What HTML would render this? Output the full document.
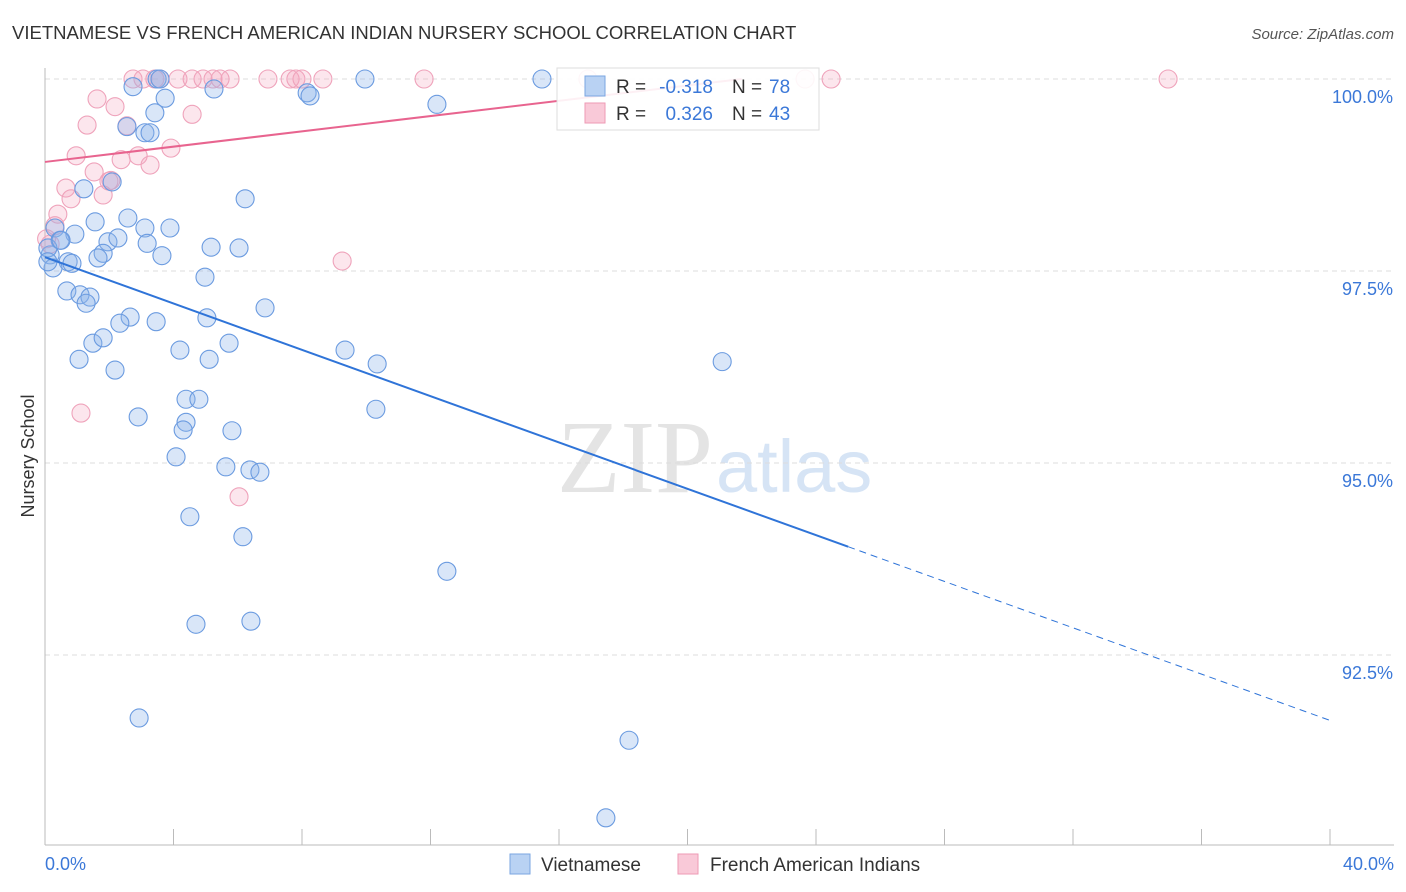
<!DOCTYPE html>
<html><head><meta charset="utf-8"><style>
body{margin:0;background:#fff;font-family:"Liberation Sans",sans-serif}
svg{display:block}
</style></head><body>
<svg id="chart" width="1406" height="892">
<text x="12" y="39" font-size="18.5" fill="#333">VIETNAMESE VS FRENCH AMERICAN INDIAN NURSERY SCHOOL CORRELATION CHART</text>
<text x="1394" y="39" font-size="15" fill="#555" font-style="italic" text-anchor="end">Source: ZipAtlas.com</text>
<text x="713" y="492" font-size="104" fill="#e4e4e4" text-anchor="end" font-family="Liberation Serif">ZIP</text>
<text x="716" y="492" font-size="74" fill="#d6e4f5">atlas</text>
<text x="34" y="456" font-size="18" fill="#333" transform="rotate(-90 34 456)" text-anchor="middle">Nursery School</text>
<g id="grid"></g><g id="pts"></g><g id="lines"></g>
<g>
<rect x="557" y="68" width="262" height="62" fill="#fff" fill-opacity="0.9" stroke="#ddd"/>
<rect x="585" y="76" width="20" height="20" fill="#b9d2f3" stroke="#7aa6e2"/>
<rect x="585" y="103" width="20" height="20" fill="#f9c9d8" stroke="#ee9ab5"/>
<text x="616" y="93" font-size="19" fill="#333">R =</text>
<text x="713" y="93" font-size="19" fill="#3b78d8" text-anchor="end">-0.318</text>
<text x="732" y="93" font-size="19" fill="#333">N =</text>
<text x="769" y="93" font-size="19" fill="#3b78d8">78</text>
<text x="616" y="120" font-size="19" fill="#333">R =</text>
<text x="713" y="120" font-size="19" fill="#3b78d8" text-anchor="end">0.326</text>
<text x="732" y="120" font-size="19" fill="#333">N =</text>
<text x="769" y="120" font-size="19" fill="#3b78d8">43</text>
</g>
<g>
<rect x="510" y="854" width="20" height="20" fill="#b9d2f3" stroke="#7aa6e2"/>
<text x="541" y="871" font-size="19" fill="#333">Vietnamese</text>
<rect x="678" y="854" width="20" height="20" fill="#f9c9d8" stroke="#ee9ab5"/>
<text x="710" y="871" font-size="19" fill="#333">French American Indians</text>
</g>
</svg>
<script>
const yTicks=[100,97.5,95,92.5];
const yTickLabels=["100.0%","97.5%","95.0%","92.5%"];
const xTickLabels=["0.0%","40.0%"];
const blueX=[2.74,3.49,3.58,3.74,3.42,3.11,3.27,2.55,5.26,8.16,8.25,9.96,15.47,12.20,2.09,1.21,6.23,0.31,1.56,2.58,3.11,3.89,0.93,0.47,1.96,2.27,3.18,5.17,6.04,0.16,1.81,1.65,3.64,0.72,0.84,0.25,4.98,0.68,1.09,1.40,1.28,6.85,2.65,2.33,3.46,5.04,1.49,1.81,4.20,5.73,9.34,1.06,5.11,10.34,21.08,2.18,2.90,4.39,4.79,4.39,4.30,5.82,10.30,4.08,5.63,6.38,6.69,4.51,6.16,12.51,4.70,6.41,2.93,18.18,17.46,0.09,0.09,0.5];
const blueY=[99.90,100,100,99.75,99.56,99.30,99.30,99.38,99.87,99.82,99.78,100,100,99.67,98.66,98.57,98.44,98.06,98.14,98.19,98.06,98.06,97.98,97.90,97.88,97.93,97.86,97.81,97.80,97.71,97.73,97.67,97.70,97.62,97.60,97.54,97.42,97.24,97.19,97.16,97.08,97.02,96.90,96.82,96.84,96.89,96.56,96.63,96.47,96.56,96.47,96.35,96.35,96.29,96.32,96.21,95.60,95.83,95.83,95.53,95.43,95.42,95.70,95.08,94.95,94.91,94.88,94.30,94.04,93.59,92.90,92.94,91.68,91.39,90.38,97.80,97.62,97.90];
const pinkX=[2.74,3.05,3.42,3.58,4.14,4.58,4.92,5.23,5.45,5.76,6.94,7.63,7.81,8.00,8.65,11.80,16.90,23.66,24.47,34.96,1.62,2.18,1.31,2.55,4.58,3.92,0.97,2.37,2.90,3.27,1.53,2.05,0.65,0.81,1.81,0.40,0.31,0.16,9.25,1.12,6.04,1.99,0.05];
const pinkY=[100,100,100,100,100,100,100,100,100,100,100,100,100,100,100,100,100,100,100,100,99.74,99.64,99.40,99.39,99.54,99.10,99.00,98.95,99.00,98.88,98.79,98.68,98.58,98.44,98.49,98.24,98.09,97.85,97.63,95.65,94.56,98.67,97.92];
const blueTrend=[97.68,-0.1508];
const pinkTrend=[98.92,0.0498];
const NS='http://www.w3.org/2000/svg';
const X=v=>45+v/40*1285, Y=v=>79+(100-v)/2.5*192;
function mk(t,a,p){const e=document.createElementNS(NS,t);for(const k in a)e.setAttribute(k,a[k]);p.appendChild(e);return e;}
const grid=document.getElementById('grid'),pts=document.getElementById('pts'),lines=document.getElementById('lines');
yTicks.forEach((t,i)=>{
 const g=mk('line',{x1:45,x2:1394,y1:Y(t),y2:Y(t),stroke:'#ddd','stroke-dasharray':'5,4'},grid);
 
 
 const l=mk('text',{x:1393,y:Y(t)+24,'font-size':18,fill:'#3b78d8','text-anchor':'end'},grid);
 l.textContent=yTickLabels[i];
 
 
});
const ya=mk('line',{x1:45,x2:45,y1:68,y2:845,stroke:'#bbb'},grid);


const xa=mk('line',{x1:45,x2:1394,y1:845,y2:845,stroke:'#bbb'},grid);


for(let v=0;v<=40;v+=4){const t=mk('line',{x1:X(v),x2:X(v),y1:829,y2:845,stroke:'#bbb'},grid);
 
 }
[[0,'start',45],[40,'end',1394]].forEach((d,i)=>{const t=mk('text',{x:d[2],y:870,'font-size':18,fill:'#3b78d8','text-anchor':d[1]},grid);t.textContent=xTickLabels[i];
 
 });
pinkX.forEach((x,i)=>{const c=mk('circle',{cx:X(x),cy:Y(pinkY[i]),r:9,fill:'rgba(245,165,192,0.28)',stroke:'#efa3bb','stroke-width':1.1},pts);
 
 });
blueX.forEach((x,i)=>{const c=mk('circle',{cx:X(x),cy:Y(blueY[i]),r:9,fill:'rgba(140,180,235,0.33)',stroke:'#6b9be0','stroke-width':1.1},pts);
 
 });
const bf=x=>blueTrend[0]+blueTrend[1]*x, pf=x=>pinkTrend[0]+pinkTrend[1]*x;
const b1=mk('line',{x1:X(0),y1:Y(bf(0)),x2:X(25),y2:Y(bf(25)),stroke:'#2f74d8','stroke-width':2},lines);


const b2=mk('line',{x1:X(25),y1:Y(bf(25)),x2:X(40),y2:Y(bf(40)),stroke:'#2f74d8','stroke-width':1,'stroke-dasharray':'7,5'},lines);


const pe=(100-pinkTrend[0])/pinkTrend[1];
const p1=mk('line',{x1:X(0),y1:Y(pf(0)),x2:X(pe),y2:Y(pf(pe)),stroke:'#e8648f','stroke-width':2},lines);


</script>
</body></html>
